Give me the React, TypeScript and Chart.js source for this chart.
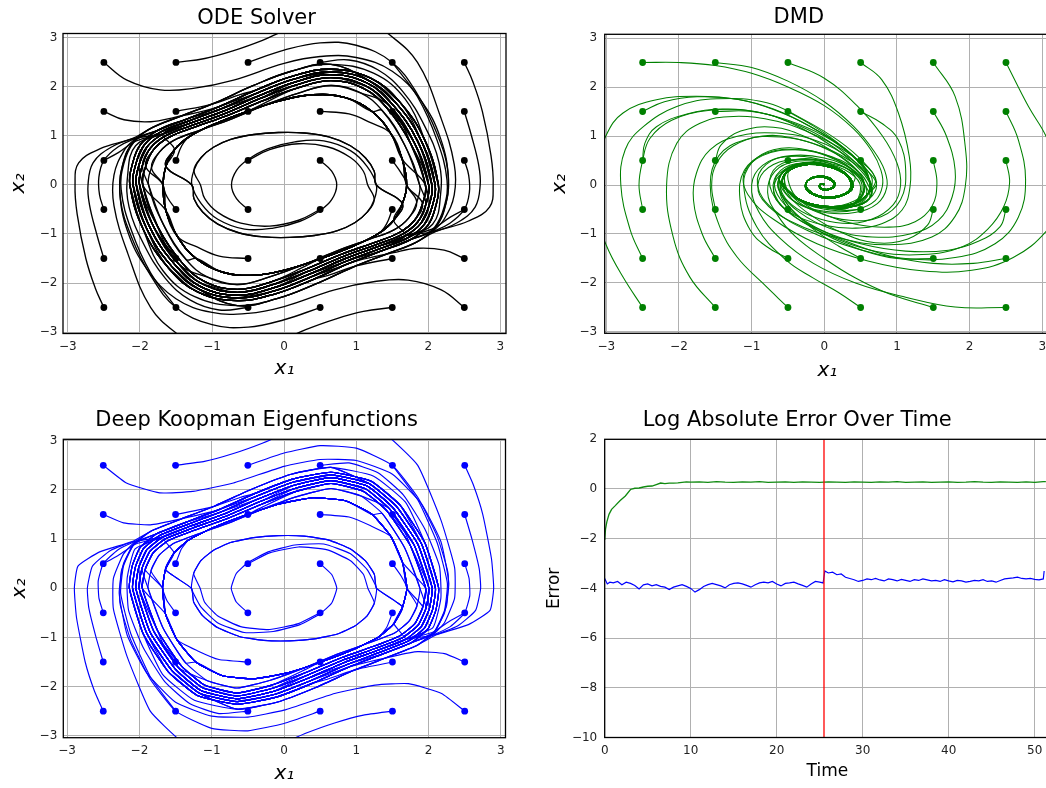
import React, { useEffect, useRef } from "react";
import { Chart, registerables } from "chart.js";

Chart.register(...registerables);

type P = [number, number];

const FONT = "'DejaVu Sans', sans-serif";

// ---------- tick values ----------
const phaseTicks = [-3, -2, -1, 0, 1, 2, 3];
const timeTicks = [0, 10, 20, 30, 40, 50];
const errorTicks = [2, 0, -2, -4, -6, -8, -10];

// ---------- closed orbits of the oscillator (clockwise, starting at the leftmost point) ----------
const bandOut2: P[] = [
  [-2.22, 0.0], [-2.18, 0.48], [-2.07, 0.88], [-1.83, 1.17], [-1.42, 1.41], [-0.95, 1.68],
  [-0.44, 2.02], [0.1, 2.32], [0.65, 2.46], [1.24, 2.28], [1.68, 1.75], [2.04, 0.95],
  [2.22, 0.0], [2.18, -0.48], [2.07, -0.88], [1.83, -1.17], [1.42, -1.41], [0.95, -1.68],
  [0.44, -2.02], [-0.1, -2.32], [-0.65, -2.46], [-1.24, -2.28], [-1.68, -1.75], [-2.04, -0.95],
];
const bandOut: P[] = [
  [-2.14, 0.0], [-2.1, 0.45], [-1.99, 0.83], [-1.76, 1.11], [-1.36, 1.34], [-0.9, 1.6],
  [-0.4, 1.93], [0.12, 2.22], [0.65, 2.36], [1.2, 2.18], [1.6, 1.7], [1.95, 0.92],
  [2.14, 0.0], [2.1, -0.45], [1.99, -0.83], [1.76, -1.11], [1.36, -1.34], [0.9, -1.6],
  [0.4, -1.93], [-0.12, -2.22], [-0.65, -2.36], [-1.2, -2.18], [-1.6, -1.7], [-1.95, -0.92],
];
const bandMidOut: P[] = [
  [-2.095, 0.0], [-2.055, 0.435], [-1.945, 0.805], [-1.72, 1.075], [-1.33, 1.3], [-0.875, 1.55],
  [-0.375, 1.875], [0.135, 2.16], [0.65, 2.305], [1.175, 2.13], [1.55, 1.675], [1.9, 0.91],
  [2.095, 0.0], [2.055, -0.435], [1.945, -0.805], [1.72, -1.075], [1.33, -1.3], [0.875, -1.55],
  [0.375, -1.875], [-0.135, -2.16], [-0.65, -2.305], [-1.175, -2.13], [-1.55, -1.675], [-1.9, -0.91],
];
const band: P[] = [
  [-2.05, 0.0], [-2.01, 0.42], [-1.9, 0.78], [-1.68, 1.04], [-1.3, 1.26], [-0.85, 1.5],
  [-0.35, 1.82], [0.15, 2.1], [0.65, 2.25], [1.15, 2.08], [1.5, 1.65], [1.85, 0.9],
  [2.05, 0.0], [2.01, -0.42], [1.9, -0.78], [1.68, -1.04], [1.3, -1.26], [0.85, -1.5],
  [0.35, -1.82], [-0.15, -2.1], [-0.65, -2.25], [-1.15, -2.08], [-1.5, -1.65], [-1.85, -0.9],
];
const bandMidIn: P[] = [
  [-2.005, 0.0], [-1.965, 0.4], [-1.855, 0.75], [-1.64, 1.005], [-1.27, 1.22], [-0.825, 1.455],
  [-0.33, 1.765], [0.16, 2.035], [0.65, 2.19], [1.125, 2.025], [1.46, 1.615], [1.8, 0.88],
  [2.005, 0.0], [1.965, -0.4], [1.855, -0.75], [1.64, -1.005], [1.27, -1.22], [0.825, -1.455],
  [0.33, -1.765], [-0.16, -2.035], [-0.65, -2.19], [-1.125, -2.025], [-1.46, -1.615], [-1.8, -0.88],
];
const bandIn: P[] = [
  [-1.96, 0.0], [-1.92, 0.38], [-1.81, 0.72], [-1.6, 0.97], [-1.24, 1.18], [-0.8, 1.41],
  [-0.31, 1.71], [0.17, 1.97], [0.65, 2.13], [1.1, 1.97], [1.42, 1.58], [1.75, 0.86],
  [1.96, 0.0], [1.92, -0.38], [1.81, -0.72], [1.6, -0.97], [1.24, -1.18], [0.8, -1.41],
  [0.31, -1.71], [-0.17, -1.97], [-0.65, -2.13], [-1.1, -1.97], [-1.42, -1.58], [-1.75, -0.86],
];
const bandIn2: P[] = [
  [-1.88, 0.0], [-1.84, 0.35], [-1.73, 0.67], [-1.53, 0.91], [-1.18, 1.11], [-0.76, 1.33],
  [-0.28, 1.62], [0.19, 1.87], [0.65, 2.03], [1.06, 1.88], [1.36, 1.52], [1.67, 0.82],
  [1.88, 0.0], [1.84, -0.35], [1.73, -0.67], [1.53, -0.91], [1.18, -1.11], [0.76, -1.33],
  [0.28, -1.62], [-0.19, -1.87], [-0.65, -2.03], [-1.06, -1.88], [-1.36, -1.52], [-1.67, -0.82],
];
const ring2: P[] = [
  [-1.68, 0.0], [-1.64, 0.38], [-1.52, 0.72], [-1.32, 0.98], [-1.0, 1.22], [-0.55, 1.48],
  [-0.05, 1.72], [0.4, 1.84], [0.85, 1.78], [1.22, 1.5], [1.48, 1.05], [1.64, 0.52],
  [1.7, 0.0], [1.64, -0.38], [1.52, -0.72], [1.32, -0.98], [1.0, -1.22], [0.55, -1.48],
  [0.05, -1.72], [-0.4, -1.84], [-0.85, -1.78], [-1.22, -1.5], [-1.48, -1.05], [-1.64, -0.52],
];
const ring1: P[] = [
  [-1.28, 0.0], [-1.25, 0.3], [-1.15, 0.56], [-0.98, 0.77], [-0.74, 0.93], [-0.42, 1.03],
  [-0.08, 1.07], [0.28, 1.06], [0.62, 0.98], [0.92, 0.8], [1.13, 0.55], [1.25, 0.28],
  [1.28, 0.0], [1.25, -0.3], [1.15, -0.56], [0.98, -0.77], [0.74, -0.93], [0.42, -1.03],
  [0.08, -1.07], [-0.28, -1.06], [-0.62, -0.98], [-0.92, -0.8], [-1.13, -0.55], [-1.25, -0.28],
];

// take `count` consecutive points of a closed orbit, wrapping around
const seg = (ring: P[], from: number, count: number): P[] =>
  Array.from({ length: count }, (_, i) => ring[(from + i) % ring.length]);
const join = (...parts: P[][]): P[] => ([] as P[]).concat(...parts);

// ---------- integrated trajectories (first point = initial condition) ----------
const odePaths: P[][] = [
  join([[0.5, 0.5], [0.66, 0.28], [0.73, 0], [0.66, -0.3], [0.5, -0.52], [0.22, -0.74], [-0.15, -0.88], [-0.55, -0.9], [-0.92, -0.7], [-1.15, -0.38]], seg(ring1, 0, 13), seg(ring2, 13, 24), seg(bandIn2, 13, 12), seg(bandMidIn, 1, 24)),
  join([[-0.5, -0.5], [-0.66, -0.28], [-0.73, 0], [-0.66, 0.3], [-0.5, 0.52], [-0.22, 0.74], [0.15, 0.88], [0.55, 0.9], [0.92, 0.7], [1.15, 0.38]], seg(ring1, 12, 13), seg(ring2, 1, 24), seg(bandIn2, 1, 12), seg(bandMidIn, 13, 24)),
  join([[-0.5, 0.5], [-0.2, 0.72], [0.2, 0.84], [0.6, 0.78], [0.92, 0.56], [1.1, 0.28], [1.16, 0]], seg(ring1, 13, 12), seg(ring2, 1, 24), seg(bandIn, 1, 24), seg(band, 1, 12)),
  join([[0.5, -0.5], [0.2, -0.72], [-0.2, -0.84], [-0.6, -0.78], [-0.92, -0.56], [-1.1, -0.28], [-1.16, 0]], seg(ring1, 1, 12), seg(ring2, 13, 24), seg(bandIn, 13, 24), seg(band, 13, 12)),

  join([[1.5, 0.5], [1.62, 0.25]], seg(ring2, 12, 24), seg(bandIn, 12, 24), seg(bandMidIn, 12, 12)),
  join([[-1.5, -0.5], [-1.62, -0.25]], seg(ring2, 0, 24), seg(bandIn, 0, 24), seg(bandMidIn, 0, 12)),
  join([[1.5, -0.5], [1.42, -0.8]], seg(ring2, 15, 24), seg(band, 15, 12)),
  join([[-1.5, 0.5], [-1.42, 0.8]], seg(ring2, 3, 24), seg(band, 3, 12)),
  join([[0.5, 1.5], [0.9, 1.45], [1.2, 1.27]], seg(ring2, 10, 24), seg(bandIn2, 10, 12), seg(bandMidIn, 22, 12)),
  join([[-0.5, -1.5], [-0.9, -1.45], [-1.2, -1.27]], seg(ring2, 22, 24), seg(bandIn2, 22, 12), seg(bandMidIn, 10, 12)),
  join([[-0.5, 1.5], [-0.3, 1.65]], seg(bandIn, 7, 12), seg(bandMidIn, 19, 12), seg(band, 7, 12)),
  join([[0.5, -1.5], [0.3, -1.65]], seg(bandIn, 19, 12), seg(bandMidIn, 7, 12), seg(band, 19, 12)),
  join([[1.5, 1.5], [1.65, 1.2]], seg(bandIn, 11, 12), seg(bandMidIn, 23, 24)),
  join([[-1.5, -1.5], [-1.65, -1.2]], seg(bandIn, 23, 12), seg(bandMidIn, 11, 24)),
  join([[-1.5, 1.5], [-1.0, 1.65], [-0.6, 1.85]], seg(bandOut, 6, 12), seg(bandMidOut, 18, 12), seg(band, 6, 12)),
  join([[1.5, -1.5], [1.0, -1.65], [0.6, -1.85]], seg(bandOut, 18, 12), seg(bandMidOut, 6, 12), seg(band, 18, 12)),

  join([[2.5, 2.5], [2.62, 2.1], [2.75, 1.5], [2.87, 0.6], [2.9, 0], [2.85, -0.45], [2.55, -0.74], [2.1, -0.95]], seg(bandOut2, 15, 6), seg(bandMidOut, 21, 24)),
  join([[-2.5, -2.5], [-2.62, -2.1], [-2.75, -1.5], [-2.87, -0.6], [-2.9, 0], [-2.85, 0.45], [-2.55, 0.74], [-2.1, 0.95]], seg(bandOut2, 3, 6), seg(bandMidOut, 9, 24)),
  join([[2.5, 1.5], [2.6, 1.0], [2.7, 0.4], [2.72, 0], [2.65, -0.45], [2.4, -0.77], [2.08, -0.95]], seg(band, 15, 24)),
  join([[-2.5, -1.5], [-2.6, -1.0], [-2.7, -0.4], [-2.72, 0], [-2.65, 0.45], [-2.4, 0.77], [-2.08, 0.95]], seg(band, 3, 24)),
  join([[2.5, 0.5], [2.56, 0.2], [2.57, -0.15], [2.5, -0.5], [2.3, -0.78], [2.06, -0.95]], seg(bandOut, 15, 12), seg(bandMidOut, 3, 12)),
  join([[-2.5, -0.5], [-2.56, -0.2], [-2.57, 0.15], [-2.5, 0.5], [-2.3, 0.78], [-2.06, 0.95]], seg(bandOut, 3, 12), seg(bandMidOut, 15, 12)),
  join([[2.5, -0.5], [2.3, -0.66], [2.05, -0.9]], seg(band, 15, 24)),
  join([[-2.5, 0.5], [-2.3, 0.66], [-2.05, 0.9]], seg(band, 3, 24)),
  join([[2.5, -1.5], [2.22, -1.33], [1.85, -1.29], [1.52, -1.38]], seg(bandOut, 17, 12), seg(bandMidOut, 5, 12)),
  join([[-2.5, 1.5], [-2.22, 1.33], [-1.85, 1.29], [-1.52, 1.38]], seg(bandOut, 5, 12), seg(bandMidOut, 17, 12)),

  join([[-2.5, 2.5], [-2.18, 2.14], [-1.72, 1.94], [-1.26, 1.97], [-0.7, 2.14], [0, 2.48], [0.5, 2.62], [1.0, 2.6], [1.5, 2.32], [1.9, 1.72], [2.17, 0.95], [2.28, 0.1], [2.22, -0.5], [2.07, -0.9]], seg(bandOut, 15, 8), seg(bandMidOut, 23, 14)),
  join([[2.5, -2.5], [2.18, -2.14], [1.72, -1.94], [1.26, -1.97], [0.7, -2.14], [0, -2.48], [-0.5, -2.62], [-1.0, -2.6], [-1.5, -2.32], [-1.9, -1.72], [-2.17, -0.95], [-2.28, -0.1], [-2.22, 0.5], [-2.07, 0.9]], seg(bandOut, 3, 8), seg(bandMidOut, 11, 14)),
  join([[-1.5, 2.5], [-1.1, 2.58], [-0.7, 2.74], [-0.3, 2.95], [0.1, 3.2], [0.7, 3.4], [1.2, 3.3], [1.45, 3.08], [1.85, 2.5], [2.17, 1.39], [2.36, 0.42], [2.36, -0.2], [2.22, -0.7], [2.07, -0.93]], seg(bandOut2, 15, 8), seg(bandOut, 23, 14)),
  join([[1.5, -2.5], [1.1, -2.58], [0.7, -2.74], [0.3, -2.95], [-0.1, -3.2], [-0.7, -3.4], [-1.2, -3.3], [-1.45, -3.08], [-1.85, -2.5], [-2.17, -1.39], [-2.36, -0.42], [-2.36, 0.2], [-2.22, 0.7], [-2.07, 0.93]], seg(bandOut2, 3, 8), seg(bandOut, 11, 14)),
  join([[-0.5, 2.5], [0, 2.75], [0.5, 2.9], [1.0, 2.85], [1.5, 2.5], [1.85, 1.85], [2.12, 1.05], [2.27, 0.3], [2.25, -0.35], [2.08, -0.9]], seg(bandOut, 15, 20)),
  join([[0.5, -2.5], [0, -2.75], [-0.5, -2.9], [-1.0, -2.85], [-1.5, -2.5], [-1.85, -1.85], [-2.12, -1.05], [-2.27, -0.3], [-2.25, 0.35], [-2.08, 0.9]], seg(bandOut, 3, 20)),
  join([[0.5, 2.5], [0.9, 2.55], [1.3, 2.35], [1.65, 1.9], [1.95, 1.2], [2.15, 0.45], [2.17, -0.2], [2.06, -0.8]], seg(band, 15, 20)),
  join([[-0.5, -2.5], [-0.9, -2.55], [-1.3, -2.35], [-1.65, -1.9], [-1.95, -1.2], [-2.15, -0.45], [-2.17, 0.2], [-2.06, 0.8]], seg(band, 3, 20)),
  join([[1.5, 2.5], [1.85, 1.8], [2.12, 0.92], [2.26, 0.1], [2.22, -0.45], [2.08, -0.88]], seg(bandOut2, 15, 6), seg(bandMidOut, 21, 14)),
  join([[-1.5, -2.5], [-1.85, -1.8], [-2.12, -0.92], [-2.26, -0.1], [-2.22, 0.45], [-2.08, 0.88]], seg(bandOut2, 3, 6), seg(bandMidOut, 9, 14)),
];

// ---------- linear (DMD) model: inner windings around the fixed point ----------
const coreA: P[] = [
  [0.66, 0.1], [0.6, -0.18], [0.4, -0.38], [0.08, -0.44], [-0.25, -0.35], [-0.48, -0.15],
  [-0.58, 0.08], [-0.48, 0.3], [-0.22, 0.42], [0.08, 0.36], [0.3, 0.2], [0.37, -0.02],
  [0.3, -0.16], [0.12, -0.24], [-0.08, -0.22], [-0.22, -0.1], [-0.25, 0.04], [-0.17, 0.14],
  [-0.02, 0.16], [0.1, 0.09], [0.13, -0.01], [0.07, -0.08], [-0.02, -0.08], [-0.06, -0.02],
  [-0.03, 0.03], [0.0, 0.01],
];
const coreB: P[] = [
  [0.72, 0.0], [0.62, -0.28], [0.36, -0.45], [0.0, -0.46], [-0.32, -0.33], [-0.52, -0.1],
  [-0.62, 0.14], [-0.47, 0.36], [-0.17, 0.46], [0.14, 0.36], [0.34, 0.17], [0.39, -0.06],
  [0.28, -0.2], [0.08, -0.27], [-0.12, -0.22], [-0.25, -0.08], [-0.24, 0.07], [-0.13, 0.17],
  [0.03, 0.17], [0.13, 0.08], [0.14, -0.03], [0.07, -0.09], [-0.03, -0.09], [-0.07, -0.02],
  [-0.03, 0.03], [0.0, 0.0],
];

const dmdPaths: P[][] = [
  join([[-2.5, 2.5], [-2.0, 2.5], [-1.5, 2.44], [-1.0, 2.28], [-0.5, 2.0], [0, 1.62], [0.4, 1.15], [0.65, 0.7], [0.78, 0.3], [0.8, -0.02], [0.7, -0.32], [0.45, -0.5], [0.1, -0.55], [-0.25, -0.45], [-0.5, -0.22]], coreA.slice(6)),
  join([[-1.5, 2.5], [-1.0, 2.4], [-0.5, 2.12], [0, 1.7], [0.4, 1.2], [0.68, 0.7], [0.83, 0.3], [0.86, -0.05], [0.73, -0.38], [0.42, -0.56], [0.05, -0.57], [-0.3, -0.43], [-0.53, -0.18]], coreB.slice(6)),
  join([[-0.5, 2.5], [0, 2.18], [0.45, 1.62], [0.8, 1.0], [1.0, 0.45], [1.05, 0], [0.95, -0.4], [0.65, -0.7], [0.25, -0.78], [-0.15, -0.65], [-0.45, -0.4], [-0.6, -0.1]], coreA.slice(6)),
  join([[0.5, 2.5], [0.79, 2.15], [1.02, 1.47], [1.17, 0.58], [1.18, -0.03], [1.07, -0.51], [0.79, -0.79], [0.43, -0.88], [0, -0.82], [-0.4, -0.62], [-0.66, -0.3], [-0.68, 0.05], [-0.52, 0.3]], coreB.slice(8)),
  join([[1.5, 2.5], [1.8, 1.81], [1.94, 0.78], [1.94, -0.03], [1.8, -0.64], [1.48, -1.06], [0.89, -1.22], [0.2, -1.08], [-0.45, -0.75], [-0.85, -0.3], [-0.9, 0.1], [-0.7, 0.42], [-0.35, 0.52], [0.05, 0.45], [0.42, 0.25], [0.56, -0.05], [0.42, -0.32]], coreB.slice(3)),
  join([[2.5, 2.5], [2.81, 1.6], [3.05, 1.0], [3.25, 0.2], [3.25, -0.4], [3.05, -0.95], [2.6, -1.48], [2.03, -1.74], [1.34, -1.75], [0.6, -1.55], [-0.1, -1.2], [-0.7, -0.7], [-1.05, -0.2], [-1.1, 0.25], [-0.85, 0.6], [-0.4, 0.72], [0.05, 0.6], [0.45, 0.3], [0.62, -0.05]], coreA.slice(1)),

  join([[2.5, 1.5], [2.67, 0.92], [2.77, 0.1], [2.67, -0.66], [2.35, -1.2], [1.8, -1.48], [1.12, -1.5], [0.45, -1.3], [-0.2, -0.95], [-0.7, -0.5], [-0.92, 0], [-0.8, 0.42], [-0.45, 0.6], [0, 0.55], [0.4, 0.3], [0.58, -0.05]], coreB.slice(1)),
  join([[2.5, 0.5], [2.55, 0.05], [2.47, -0.44], [2.25, -0.9], [1.9, -1.26], [1.35, -1.42], [0.7, -1.35], [0.1, -1.05], [-0.4, -0.65], [-0.72, -0.15], [-0.7, 0.3], [-0.4, 0.52], [0, 0.48]], coreA.slice(10)),
  join([[2.5, -0.5], [2.42, -0.85], [2.12, -1.15], [1.71, -1.33], [1.12, -1.35], [0.5, -1.2], [-0.05, -0.92], [-0.5, -0.55], [-0.7, -0.1], [-0.6, 0.3], [-0.3, 0.45]], coreB.slice(9)),
  join([[2.5, -1.5], [2.05, -1.6], [1.5, -1.6], [0.9, -1.45], [0.3, -1.15], [-0.25, -0.75], [-0.6, -0.3], [-0.68, 0.1], [-0.5, 0.35]], coreA.slice(8)),
  join([[2.5, -2.5], [1.8, -2.49], [1.12, -2.29], [0.43, -2.0], [-0.15, -1.6], [-0.6, -1.1], [-0.9, -0.55], [-1.0, 0], [-0.85, 0.4], [-0.5, 0.58], [-0.05, 0.52], [0.35, 0.3], [0.52, 0]], coreA.slice(2)),

  join([[1.5, -2.5], [0.89, -2.22], [0.43, -1.9], [0, -1.5], [-0.4, -1.05], [-0.65, -0.6], [-0.78, -0.15], [-0.68, 0.28], [-0.4, 0.48], [0, 0.44], [0.35, 0.25], [0.5, -0.05]], coreB.slice(2)),
  join([[0.5, -2.5], [0.2, -2.2], [-0.15, -1.9], [-0.52, -1.54], [-0.93, -0.85], [-1.11, 0], [-1.0, 0.45], [-0.7, 0.72], [-0.25, 0.72], [0.2, 0.5], [0.5, 0.15], [0.58, -0.2], [0.4, -0.4]], coreA.slice(3)),
  join([[-0.5, -2.5], [-0.85, -2.0], [-1.2, -1.47], [-1.44, -0.85], [-1.57, 0], [-1.45, 0.6], [-1.1, 0.92], [-0.6, 0.98], [-0.1, 0.82], [0.35, 0.5], [0.62, 0.12]], coreB.slice(1)),
  join([[-1.5, -2.5], [-1.85, -1.88], [-2.08, -1.06], [-2.17, 0], [-2.03, 0.85], [-1.71, 1.26], [-1.25, 1.4], [-0.65, 1.3], [-0.1, 1.0], [0.4, 0.58], [0.7, 0.15]], coreA.slice(1)),
  join([[-2.5, -2.5], [-2.77, -1.88], [-3.0, -1.23], [-3.15, -0.5], [-3.15, 0.3], [-3.0, 1.02], [-2.77, 1.47], [-2.31, 1.74], [-1.76, 1.81], [-1.16, 1.74], [-0.7, 1.54], [-0.2, 1.2], [0.3, 0.72], [0.62, 0.25]], coreB),

  join([[-2.5, -1.5], [-2.67, -0.92], [-2.8, 0], [-2.74, 0.72], [-2.49, 1.19], [-2.03, 1.6], [-1.48, 1.76], [-0.79, 1.68], [-0.3, 1.35], [0.2, 0.9], [0.55, 0.45], [0.72, 0.05]], coreA.slice(1)),
  join([[-2.5, -0.5], [-2.55, 0], [-2.5, 0.5], [-2.4, 0.95], [-2.1, 1.32], [-1.6, 1.52], [-1.05, 1.52], [-0.5, 1.3], [0, 0.95], [0.4, 0.5], [0.62, 0.08]], coreA.slice(1)),
  join([[-2.5, 0.5], [-2.47, 0.85], [-2.31, 1.19], [-1.89, 1.45], [-1.4, 1.55], [-0.8, 1.45], [-0.3, 1.15], [0.15, 0.75], [0.5, 0.3], [0.65, -0.05]], coreB.slice(1)),
  join([[-2.5, 1.5], [-2.2, 1.7], [-1.75, 1.8], [-1.2, 1.75], [-0.7, 1.55], [-0.2, 1.2], [0.25, 0.78], [0.58, 0.32]], coreA),

  join([[-1.5, 1.5], [-1.0, 1.5], [-0.52, 1.33], [0, 1.0], [0.38, 0.6], [0.6, 0.2]], coreA.slice(1)),
  join([[-1.5, 0.5], [-1.42, 0.82], [-1.15, 1.1], [-0.7, 1.18], [-0.25, 0.98], [0.15, 0.65], [0.45, 0.28], [0.55, -0.05]], coreB.slice(2)),
  join([[-1.5, -0.5], [-1.55, 0], [-1.48, 0.45], [-1.25, 0.8], [-0.85, 1.0], [-0.4, 0.95], [0.05, 0.72], [0.4, 0.38], [0.55, 0.0]], coreA.slice(2)),
  join([[-1.5, -1.5], [-1.68, -1.0], [-1.8, -0.31], [-1.76, 0.24], [-1.57, 0.72], [-1.21, 0.99], [-0.66, 1.06], [-0.1, 0.9], [0.35, 0.55], [0.62, 0.12]], coreB.slice(1)),
  join([[-0.5, 1.5], [-0.2, 1.25], [0.15, 0.9], [0.45, 0.5], [0.62, 0.1]], coreB.slice(1)),
  join([[-0.5, 0.5], [-0.15, 0.52], [0.2, 0.42], [0.42, 0.18]], coreA.slice(11)),
  join([[-0.5, -0.5], [-0.61, -0.17], [-0.61, 0.17], [-0.48, 0.38], [-0.2, 0.45]], coreB.slice(9)),
  join([[-0.5, -1.5], [-0.8, -1.25], [-1.02, -0.92], [-1.16, -0.3], [-1.1, 0.3], [-0.8, 0.65], [-0.35, 0.72], [0.1, 0.55], [0.45, 0.22], [0.55, -0.12]], coreA.slice(2)),
  join([[0.5, 1.5], [0.8, 1.25], [1.02, 0.92], [1.12, 0.3], [1.05, -0.3], [0.78, -0.65], [0.35, -0.72], [-0.1, -0.55], [-0.45, -0.22], [-0.55, 0.12]], coreA.slice(7)),
  join([[0.5, 0.5], [0.61, 0.17], [0.61, -0.17], [0.48, -0.38], [0.2, -0.45]], coreB.slice(4)),
  join([[0.5, -0.5], [0.15, -0.52], [-0.2, -0.42], [-0.42, -0.2]], coreA.slice(6)),
  join([[0.5, -1.5], [0.2, -1.25], [-0.15, -0.9], [-0.45, -0.5], [-0.62, -0.1]], coreB.slice(6)),
  join([[1.5, 1.5], [1.68, 1.0], [1.8, 0.31], [1.76, -0.24], [1.57, -0.72], [1.21, -0.99], [0.66, -1.06], [0.1, -0.9], [-0.35, -0.55], [-0.62, -0.12]], coreB.slice(6)),
  join([[1.5, 0.5], [1.55, 0.03], [1.48, -0.44], [1.25, -0.75], [0.89, -0.86], [0.43, -0.8], [0, -0.6], [-0.35, -0.3], [-0.48, 0.0]], coreA.slice(7)),
  join([[1.5, -0.5], [1.42, -0.82], [1.15, -1.1], [0.7, -1.18], [0.25, -0.98], [-0.15, -0.65], [-0.45, -0.28], [-0.55, 0.05]], coreB.slice(7)),
  join([[1.5, -1.5], [1.0, -1.5], [0.52, -1.33], [0, -1.0], [-0.38, -0.6], [-0.58, -0.22]], coreA.slice(6)),
];

// ---------- log absolute error over time ----------
const dmdError: P[] = [
  [0, -2.05], [0.1, -1.6], [0.25, -1.32], [0.5, -1.02], [0.8, -0.82], [1.2, -0.68], [1.8, -0.46],
  [2.4, -0.28], [3.0, -0.02], [3.5, 0.03], [4, 0.04], [4.5, 0.08], [5, 0.11], [5.5, 0.12], [6, 0.18],
  [6.5, 0.24], [7, 0.22], [7.5, 0.24], [8, 0.24], [8.5, 0.25], [9, 0.27], [9.5, 0.29], [10, 0.28],
  [11, 0.29], [12, 0.27], [13, 0.3], [14, 0.28], [15, 0.27], [16, 0.29], [17, 0.28], [18, 0.3],
  [19, 0.27], [20, 0.28], [21, 0.29], [22, 0.27], [23, 0.29], [24, 0.28], [25, 0.27], [26, 0.29],
  [27, 0.28], [28, 0.27], [29, 0.29], [30, 0.28], [31, 0.27], [32, 0.29], [33, 0.28], [34, 0.3],
  [35, 0.27], [36, 0.28], [37, 0.29], [38, 0.27], [39, 0.28], [40, 0.29], [41, 0.27], [42, 0.28],
  [43, 0.3], [44, 0.28], [45, 0.27], [46, 0.29], [47, 0.28], [48, 0.27], [49, 0.29], [50, 0.27],
  [51, 0.3], [51.3, 0.3],
];
const dkError: P[] = [
  [0, -3.6], [0.3, -3.82], [0.6, -3.75], [1, -3.78], [1.5, -3.72], [2, -3.85], [2.5, -3.75], [3, -3.8],
  [3.5, -3.88], [4, -4.02], [4.5, -3.86], [5, -3.82], [5.5, -3.9], [6, -3.85], [6.5, -3.92], [7, -3.95],
  [7.5, -4.05], [8, -3.95], [8.5, -3.9], [9, -3.85], [9.5, -3.92], [10, -4.0], [10.5, -4.15], [11, -4.05],
  [11.5, -3.92], [12, -3.85], [12.5, -3.8], [13, -3.85], [13.5, -3.9], [14, -3.98], [14.5, -3.85],
  [15, -3.8], [15.5, -3.78], [16, -3.82], [16.5, -3.88], [17, -3.95], [17.5, -3.85], [18, -3.78],
  [18.5, -3.75], [19, -3.78], [19.5, -3.72], [20, -3.82], [20.5, -3.9], [21, -3.8], [21.5, -3.78],
  [22, -3.75], [22.5, -3.82], [23, -3.88], [23.5, -3.95], [24, -3.82], [24.5, -3.72], [25, -3.75],
  [25.4, -3.78], [25.6, -3.3], [26, -3.38], [26.5, -3.35], [27, -3.45], [27.5, -3.42], [28, -3.55],
  [28.5, -3.6], [29, -3.65], [29.5, -3.72], [30, -3.68], [30.5, -3.62], [31, -3.65], [31.5, -3.6],
  [32, -3.66], [32.5, -3.7], [33, -3.62], [33.5, -3.65], [34, -3.7], [34.5, -3.64], [35, -3.68],
  [35.5, -3.72], [36, -3.65], [36.5, -3.68], [37, -3.62], [37.5, -3.66], [38, -3.7], [38.5, -3.68],
  [39, -3.72], [39.5, -3.65], [40, -3.7], [40.5, -3.74], [41, -3.68], [41.5, -3.7], [42, -3.75],
  [42.5, -3.72], [43, -3.68], [43.5, -3.7], [44, -3.65], [44.5, -3.72], [45, -3.7], [45.5, -3.75],
  [46, -3.68], [46.5, -3.62], [47, -3.6], [47.5, -3.58], [48, -3.55], [48.5, -3.6], [49, -3.62],
  [49.5, -3.6], [50, -3.64], [50.5, -3.66], [51, -3.62], [51.1, -3.3],
];
const splitTime = 25.5;

// ---------- chart helpers ----------
const fmt = (v: number | string) => String(v).replace("-", "\u2212");

const framePlugin = {
  id: "frame",
  afterDatasetsDraw(chart: any) {
    const { ctx, chartArea: a } = chart;
    ctx.save();
    ctx.strokeStyle = "#000";
    ctx.lineWidth = 1.3;
    ctx.strokeRect(a.left, a.top, a.right - a.left, a.bottom - a.top);
    ctx.restore();
  },
};

type AxisSpec = {
  min: number;
  max: number;
  ticks: number[];
  title: string;
  titleFont: any;
  size: number;
  tickPad: number;
  horizontal: boolean;
};

function axis(s: AxisSpec) {
  return {
    type: "linear",
    position: s.horizontal ? "bottom" : "left",
    min: s.min,
    max: s.max,
    afterBuildTicks: (sc: any) => {
      sc.ticks = s.ticks.map((v) => ({ value: v }));
    },
    afterFit: (sc: any) => {
      if (s.horizontal) sc.height = s.size;
      else sc.width = s.size;
    },
    grid: { color: "#b0b0b0", lineWidth: 1, drawTicks: false },
    border: { display: false },
    ticks: {
      autoSkip: false,
      maxRotation: 0,
      padding: s.tickPad,
      font: { family: FONT, size: 12 },
      color: "#222",
      callback: (v: number) => fmt(v),
    },
    title: { display: true, text: s.title, font: s.titleFont, color: "#000", padding: 0 },
  };
}

type Frame = {
  pad: { left: number; right: number; top: number; bottom: number };
  yWidth: number;
  xHeight: number;
  titlePad: { top: number; bottom: number };
  xTickPad: number;
  yTickPad: number;
  xRange: [number, number];
  yRange: [number, number];
};

const mathFont = { family: FONT, size: 20, style: "italic" };
const labelFont = { family: FONT, size: 17 };

function baseOptions(title: string, f: Frame, xTitle: string, yTitle: string, xTicks: number[], yTicks: number[], titleFontX: any, titleFontY: any) {
  return {
    responsive: false,
    animation: false,
    devicePixelRatio: 1,
    events: [],
    layout: { padding: f.pad },
    elements: { line: { capBezierPoints: false } },
    plugins: {
      legend: { display: false },
      tooltip: { enabled: false },
      title: {
        display: true,
        text: title,
        color: "#000",
        font: { family: FONT, size: 21, weight: "normal" },
        padding: f.titlePad,
      },
    },
    scales: {
      x: axis({ min: f.xRange[0], max: f.xRange[1], ticks: xTicks, title: xTitle, titleFont: titleFontX, size: f.xHeight, tickPad: f.xTickPad, horizontal: true }),
      y: axis({ min: f.yRange[0], max: f.yRange[1], ticks: yTicks, title: yTitle, titleFont: titleFontY, size: f.yWidth, tickPad: f.yTickPad, horizontal: false }),
    },
  };
}

function phaseConfig(title: string, paths: P[][], color: string, tension: number, width: number, f: Frame) {
  const dots = {
    data: paths.map((p) => ({ x: p[0][0], y: p[0][1] })),
    showLine: false,
    pointRadius: 3.4,
    pointBackgroundColor: color,
    pointBorderColor: color,
    pointBorderWidth: 0,
  };
  const lines = paths.map((p) => ({
    data: p.map(([x, y]) => ({ x, y })),
    showLine: true,
    borderColor: color,
    borderWidth: width,
    pointRadius: 0,
    tension,
    fill: false,
  }));
  return {
    type: "scatter",
    data: { datasets: [dots, ...lines] },
    options: baseOptions(title, f, "x\u2081", "x\u2082", phaseTicks, phaseTicks, mathFont, mathFont),
    plugins: [framePlugin],
  };
}

function errorConfig(f: Frame) {
  const line = (pts: P[], color: string, width: number) => ({
    data: pts.map(([x, y]) => ({ x, y })),
    showLine: true,
    borderColor: color,
    borderWidth: width,
    pointRadius: 0,
    tension: 0,
    fill: false,
  });
  const split: P[] = [[splitTime, errorTicks[errorTicks.length - 1]], [splitTime, errorTicks[0]]];
  return {
    type: "scatter",
    data: {
      datasets: [line(split, "#ff0000", 1.3), line(dkError, "#0000ff", 1.2), line(dmdError, "#108a10", 1.3)],
    },
    options: baseOptions("Log Absolute Error Over Time", f, "Time", "Error", timeTicks, errorTicks, labelFont, labelFont),
    plugins: [framePlugin],
  };
}

const frameTL: Frame = {
  pad: { left: 7.2, right: 17, top: 0, bottom: 13.2 },
  yWidth: 55.8, xHeight: 47.3,
  titlePad: { top: 6.2, bottom: 2.1 },
  xTickPad: 6.5, yTickPad: 5.5,
  xRange: [-3.067, 3.078], yRange: [-3.03, 3.09],
};
const frameTR: Frame = {
  pad: { left: 24.7, right: 13, top: 0, bottom: 11.2 },
  yWidth: 57, xHeight: 49.5,
  titlePad: { top: 5.4, bottom: 3.7 },
  xTickPad: 6, yTickPad: 7.5,
  xRange: [-3.022, 3.106], yRange: [-3.027, 3.076],
};
const frameBL: Frame = {
  pad: { left: 7.7, right: 17.5, top: 0, bottom: 2 },
  yWidth: 55.6, xHeight: 48.3,
  titlePad: { top: 13.9, bottom: 6.2 },
  xTickPad: 6, yTickPad: 6,
  xRange: [-3.053, 3.064], yRange: [-3.04, 3.03],
};
const frameBR: Frame = {
  pad: { left: 21.5, right: 13, top: 0, bottom: 6.1 },
  yWidth: 60.2, xHeight: 44.4,
  titlePad: { top: 14.2, bottom: 5.9 },
  xTickPad: 6, yTickPad: 7.5,
  xRange: [0, 51.78], yRange: [-10, 2],
};

function Panel({ left, top, width, height, make }: { left: number; top: number; width: number; height: number; make: () => any }) {
  const ref = useRef<HTMLCanvasElement | null>(null);
  useEffect(() => {
    if (!ref.current) return;
    const chart = new Chart(ref.current, make());
    return () => chart.destroy();
  }, []);
  return (
    <canvas
      ref={ref}
      width={width}
      height={height}
      style={{ position: "absolute", left, top, width, height }}
    />
  );
}

export default function App() {
  return (
    <div
      style={{
        position: "fixed",
        left: 0,
        top: 0,
        width: 1046,
        height: 788,
        overflow: "hidden",
        background: "#fff",
      }}
    >
      <Panel left={0} top={0} width={523} height={394} make={() => phaseConfig("ODE Solver", odePaths, "#000000", 0.4, 1.35, frameTL)} />
      <Panel left={523} top={0} width={540} height={394} make={() => phaseConfig("DMD", dmdPaths, "#008000", 0.4, 1.05, frameTR)} />
      <Panel left={0} top={394} width={523} height={394} make={() => phaseConfig("Deep Koopman Eigenfunctions", odePaths, "#0000ff", 0.15, 1.15, frameBL)} />
      <Panel left={523} top={394} width={540} height={394} make={() => errorConfig(frameBR)} />
    </div>
  );
}
